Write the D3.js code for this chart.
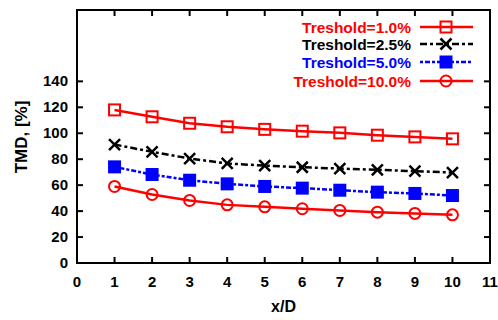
<!DOCTYPE html>
<html>
<head>
<meta charset="utf-8">
<script src="https://cdn.jsdelivr.net/npm/d3@7"></script>
<style>
  body { margin: 0; background: #fff; }
  text { font-family: "Liberation Sans", Arial, sans-serif; font-weight: bold; }
</style>
</head>
<body>
<svg id="chart" width="498" height="320"></svg>
<script>
const xValues = [1, 2, 3, 4, 5, 6, 7, 8, 9, 10];
const t10 = [118, 112.7, 107.7, 105, 103, 101.6, 100.3, 98.5, 97.2, 95.7];
const t25 = [91.3, 85.7, 80.5, 76.7, 75.1, 73.8, 72.8, 71.8, 70.8, 69.7];
const t50 = [74.1, 68.2, 63.8, 61, 59, 57.7, 56.1, 54.6, 53.6, 52];
const t100 = [59, 52.8, 48.2, 44.8, 43.3, 41.8, 40.5, 39.2, 38.2, 37.1];
const seriesNames = ['Treshold=1.0%', 'Treshold=2.5%', 'Treshold=5.0%', 'Treshold=10.0%'];
const xTicks = d3.range(0, 12);
const yTicks = d3.range(0, 141, 20);

const svg = d3.select('#chart');
const margin = { left: 77, right: 8, top: 10, bottom: 57 };
const width = +svg.attr('width');
const height = +svg.attr('height');

const x = d3.scaleLinear().domain([0, 11]).range([margin.left, width - margin.right]);
const y = d3.scaleLinear().domain([0, 195]).range([height - margin.bottom, margin.top]);

const series = [
  { name: seriesNames[0], values: t10, color: '#ff0000', dash: null, marker: 'square' },
  { name: seriesNames[1], values: t25, color: '#000000', dash: '7,3,3,3', marker: 'cross' },
  { name: seriesNames[2], values: t50, color: '#0000ff', dash: '3,2,5,2', marker: 'fsquare' },
  { name: seriesNames[3], values: t100, color: '#ff0000', dash: null, marker: 'circle' },
];

// frame
svg.append('rect')
  .attr('x', x(0)).attr('y', y(195))
  .attr('width', x(11) - x(0)).attr('height', y(0) - y(195))
  .attr('fill', 'none').attr('stroke', '#000').attr('stroke-width', 2);

// inward ticks, mirrored
const tickLen = 6;
const ticks = svg.append('g').attr('stroke', '#000').attr('stroke-width', 2);
xTicks.slice(1, -1).forEach(t => {
  ticks.append('line').attr('x1', x(t)).attr('x2', x(t)).attr('y1', y(0)).attr('y2', y(0) - tickLen);
  ticks.append('line').attr('x1', x(t)).attr('x2', x(t)).attr('y1', y(195)).attr('y2', y(195) + tickLen);
});
yTicks.slice(1).forEach(t => {
  ticks.append('line').attr('x1', x(0)).attr('x2', x(0) + tickLen).attr('y1', y(t)).attr('y2', y(t));
  ticks.append('line').attr('x1', x(11)).attr('x2', x(11) - tickLen).attr('y1', y(t)).attr('y2', y(t));
});

// tick labels
svg.append('g').selectAll('text').data(xTicks).enter().append('text')
  .attr('x', d => x(d)).attr('y', y(0) + 24)
  .attr('text-anchor', 'middle').attr('font-size', 15)
  .text(d => d);
svg.append('g').selectAll('text').data(yTicks).enter().append('text')
  .attr('x', x(0) - 9).attr('y', d => y(d) + 5)
  .attr('text-anchor', 'end').attr('font-size', 15)
  .text(d => d);

// axis titles
svg.append('text')
  .attr('x', (x(0) + x(11)) / 2).attr('y', 312)
  .attr('text-anchor', 'middle').attr('font-size', 16)
  .text('x/D');
svg.append('text')
  .attr('transform', 'translate(27,137) rotate(-90)')
  .attr('text-anchor', 'middle').attr('font-size', 17)
  .text('TMD, [%]');

function drawMarker(g, type, cx, cy, color) {
  const s = 5.5;
  if (type === 'square' || type === 'fsquare') {
    g.append('rect')
      .attr('x', cx - s).attr('y', cy - s).attr('width', 2 * s).attr('height', 2 * s)
      .attr('fill', type === 'fsquare' ? color : 'none')
      .attr('stroke', color).attr('stroke-width', 2);
  } else if (type === 'circle') {
    g.append('circle').attr('cx', cx).attr('cy', cy).attr('r', s)
      .attr('fill', 'none').attr('stroke', color).attr('stroke-width', 2);
  } else if (type === 'cross') {
    g.append('path')
      .attr('d', `M${cx - s},${cy - s}L${cx + s},${cy + s}M${cx - s},${cy + s}L${cx + s},${cy - s}`)
      .attr('stroke', color).attr('stroke-width', 2.5);
  }
}

const line = d3.line().x((d, i) => x(xValues[i])).y(d => y(d));

series.forEach(s => {
  const g = svg.append('g');
  g.append('path')
    .attr('d', line(s.values))
    .attr('fill', 'none').attr('stroke', s.color).attr('stroke-width', 2.5)
    .attr('stroke-dasharray', s.dash);
  s.values.forEach((v, i) => drawMarker(g, s.marker, x(xValues[i]), y(v), s.color));
});

// legend
const legendY = [27, 44, 62, 81];
series.forEach((s, i) => {
  const g = svg.append('g');
  const ly = legendY[i];
  g.append('text')
    .attr('x', 411).attr('y', ly + 5.5)
    .attr('text-anchor', 'end').attr('font-size', 15.5)
    .attr('fill', s.color)
    .text(s.name);
  g.append('line')
    .attr('x1', 420).attr('x2', 473).attr('y1', ly).attr('y2', ly)
    .attr('stroke', s.color).attr('stroke-width', 2.5)
    .attr('stroke-dasharray', s.dash);
  drawMarker(g, s.marker, 446, ly, s.color);
});
</script>
</body>
</html>
